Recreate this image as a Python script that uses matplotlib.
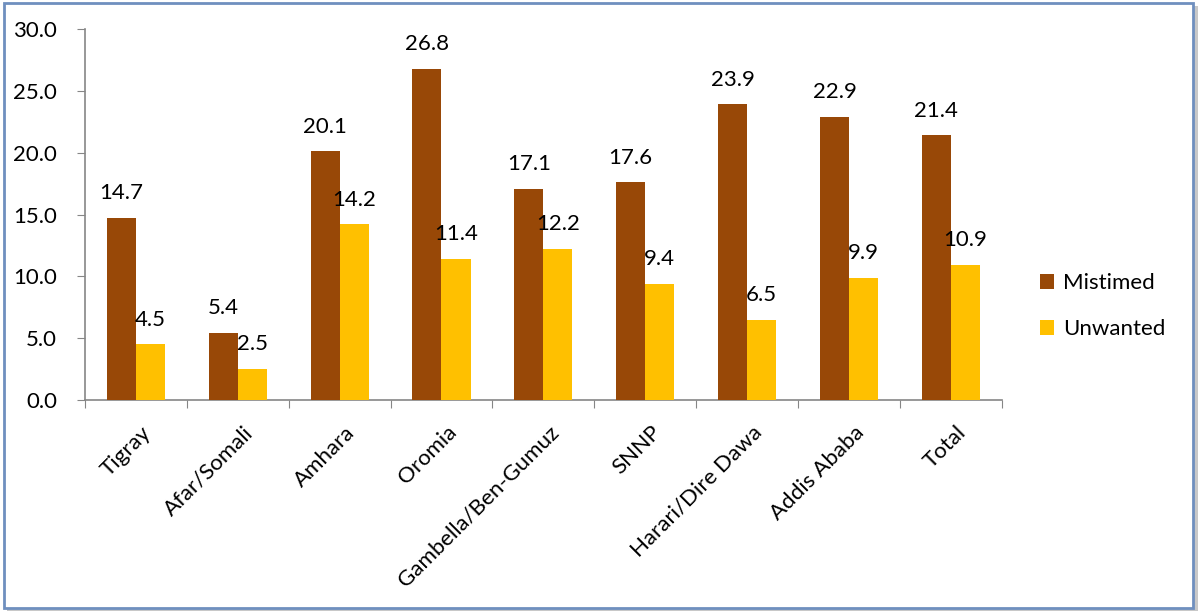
import numpy as np
import matplotlib.pyplot as plt
from matplotlib.patches import Rectangle

regions = ['Tigray', 'Afar/Somali', 'Amhara', 'Oromia', 'Gambella/Ben-Gumuz',
           'SNNP', 'Harari/Dire Dawa', 'Addis Ababa', 'Total']
mistimed = [14.7, 5.4, 20.1, 26.8, 17.1, 17.6, 23.9, 22.9, 21.4]
unwanted = [4.5, 2.5, 14.2, 11.4, 12.2, 9.4, 6.5, 9.9, 10.9]

plt.rcParams['font.family'] = ['Lato', 'DejaVu Sans']
fs = 16

fig = plt.figure(figsize=(12, 6.15), dpi=100)
# outer frame with a soft shadow, like the exported chart area
fig.patches.append(Rectangle((0.006, 0.006), 0.992, 0.985, transform=fig.transFigure,
                             facecolor='#c8c8c8', edgecolor='none', zorder=-2))
fig.patches.append(Rectangle((0.003, 0.012), 0.991, 0.983, transform=fig.transFigure,
                             facecolor='white', edgecolor='#6f8fbf', linewidth=2, zorder=-1))

ax = fig.add_axes([0.0708, 0.3496, 0.764, 0.6032])
ax.set_zorder(2)
ax.patch.set_alpha(0)
x = np.arange(len(regions))
w = 0.285
b1 = ax.bar(x - w / 2, mistimed, w, color='#984807', label='Mistimed', zorder=3)
b2 = ax.bar(x + w / 2, unwanted, w, color='#FFC000', label='Unwanted', zorder=3)

for bars, vals in ((b1, mistimed), (b2, unwanted)):
    for r, v in zip(bars, vals):
        ax.text(r.get_x() + r.get_width() / 2, v + 1.2, f'{v:.1f}',
                ha='center', va='bottom', fontsize=fs)

ax.set_xlim(-0.5, len(regions) - 0.5)
ax.set_ylim(0, 30)
ax.set_yticks(np.arange(0, 31, 5))
ax.set_yticklabels([f'{t:.1f}' for t in np.arange(0, 31, 5)], fontsize=fs)
ax.set_xticks(np.arange(len(regions) + 1) - 0.5, minor=False)
ax.set_xticklabels([])
ax.set_xticks(x + 0.05, minor=True)
ax.set_xticklabels(regions, minor=True, rotation=45, ha='right',
                   rotation_mode='anchor', fontsize=fs)
ax.tick_params(axis='x', which='minor', length=0, pad=16)
ax.tick_params(axis='x', which='major', length=6, color='#868686', direction='out')
ax.tick_params(axis='y', length=6, color='#868686', pad=14)
for s in ('top', 'right'):
    ax.spines[s].set_visible(False)
for s in ('left', 'bottom'):
    ax.spines[s].set_color('#868686')
    ax.spines[s].set_linewidth(1.2)

fig.legend(handles=[b1, b2], loc='center left', bbox_to_anchor=(0.85, 0.502),
           frameon=False, fontsize=fs, handlelength=0.65, handleheight=0.65,
           handletextpad=0.4, labelspacing=1.15)

fig.savefig('out.png', dpi=100)
